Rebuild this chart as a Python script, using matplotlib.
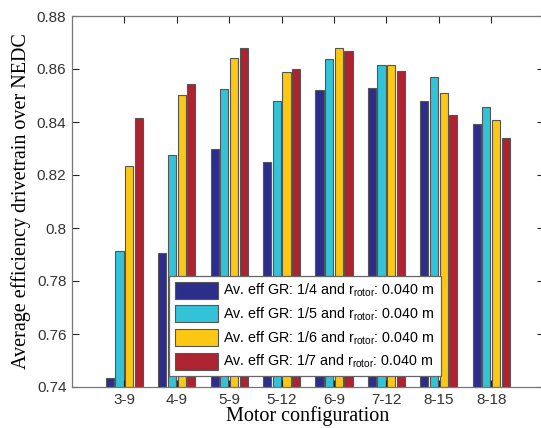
import matplotlib
matplotlib.use("Agg")
import matplotlib.pyplot as plt
import numpy as np

categories = ["3-9", "4-9", "5-9", "5-12", "6-9", "7-12", "8-15", "8-18"]
gr_1_4 = [0.7435, 0.7904, 0.8298, 0.8249, 0.8521, 0.8529, 0.8480, 0.8391]
gr_1_5 = [0.7913, 0.8274, 0.8523, 0.8480, 0.8637, 0.8615, 0.8570, 0.8458]
gr_1_6 = [0.8235, 0.8502, 0.8640, 0.8588, 0.8680, 0.8615, 0.8508, 0.8409]
gr_1_7 = [0.8416, 0.8543, 0.8680, 0.8601, 0.8669, 0.8591, 0.8426, 0.8338]
labels = [r"Av. eff GR: 1/4 and r$_{\mathregular{rotor}}$: 0.040 m",
          r"Av. eff GR: 1/5 and r$_{\mathregular{rotor}}$: 0.040 m",
          r"Av. eff GR: 1/6 and r$_{\mathregular{rotor}}$: 0.040 m",
          r"Av. eff GR: 1/7 and r$_{\mathregular{rotor}}$: 0.040 m"]
yticks = [0.74, 0.76, 0.78, 0.80, 0.82, 0.84, 0.86, 0.88]
ytick_labels = ["0.74", "0.76", "0.78", "0.8", "0.82", "0.84", "0.86", "0.88"]

colors = ["#2d2e8c", "#33c3d8", "#fcc813", "#ae2330"]
series = [gr_1_4, gr_1_5, gr_1_6, gr_1_7]

plt.rcParams["mathtext.fontset"] = "custom"
plt.rcParams["mathtext.rm"] = "Liberation Sans"

fig = plt.figure(figsize=(5.41, 4.28), dpi=100)
ax = fig.add_axes([72/541, 1-387/428, 471.6/541, 371/428])

x = np.arange(1, len(categories) + 1)
step = 0.185
width = 0.155
for i, (vals, c, lab) in enumerate(zip(series, colors, labels)):
    ax.bar(x + (i - 1.5) * step, np.array(vals) - 0.74, bottom=0.74, width=width,
           color=c, edgecolor="#555555", linewidth=0.8, label=lab, zorder=1)

ax.set_xlim(0, 9)
ax.set_ylim(0.74, 0.88)
ax.set_xticks(x)
ax.set_xticklabels(categories, family="Liberation Sans", fontsize=11, color="#333333")
ax.set_yticks(yticks)
ax.set_yticklabels(ytick_labels, family="Liberation Sans", fontsize=11, color="#333333")
ax.tick_params(direction="in", top=True, right=True, length=5, width=0.8, color="#222222", pad=4)
for s in ax.spines.values():
    s.set_color("#777777")
    s.set_linewidth(0.9)

ax.set_xlabel("Motor configuration", family="Liberation Serif", fontsize=14.5, labelpad=0)
ax.set_ylabel("Average efficiency drivetrain over NEDC", family="Liberation Serif", fontsize=14.5, labelpad=4)

leg = ax.legend(loc="lower left", bbox_to_anchor=((169-72)/471.6, (387-376)/371),
                borderaxespad=0, fancybox=False, framealpha=1, edgecolor="#666666",
                prop={"family": "Liberation Sans", "size": 10.3},
                handlelength=3.0, handleheight=1.45, labelspacing=0.42,
                handletextpad=0.4, borderpad=0.4)
leg.get_frame().set_linewidth(0.9)
leg.set_zorder(5)

fig.savefig("out.png", dpi=100)
